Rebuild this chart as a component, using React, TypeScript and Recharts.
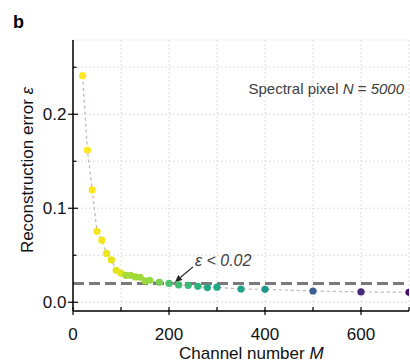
import React from 'react';
import { ComposedChart, Line, XAxis, YAxis, CartesianGrid, ReferenceLine } from 'recharts';

const channels = [20, 30, 40, 50, 60, 70, 80, 90, 100, 110, 120, 130, 140, 150, 160, 180, 200, 220, 240, 260, 280, 300, 350, 400, 500, 600, 700];
const errors = [0.241, 0.162, 0.1195, 0.0755, 0.066, 0.052, 0.045, 0.034, 0.031, 0.0287, 0.0287, 0.027, 0.0266, 0.0227, 0.0234, 0.0213, 0.020, 0.0184, 0.018, 0.017, 0.0156, 0.016, 0.014, 0.0138, 0.012, 0.011, 0.0106];
const pointColors = ['#fde725', '#fde725', '#f8e621', '#f1e51d', '#f1e51d', '#ece51b', '#e5e419', '#e2e418', '#dde318', '#a5db36', '#a5db36', '#a0da39', '#a0da39', '#9bd93c', '#95d840', '#7ad151', '#4ac16d', '#40bd72', '#3bbb75', '#2eb37c', '#22a884', '#22a884', '#20a386', '#1f968b', '#3b5f8f', '#482878', '#46106a'];
const xTicks = [0, 100, 200, 300, 400, 500, 600, 700];
const yTicks = [0, 0.05, 0.1, 0.15, 0.2, 0.25];
const threshold = 0.02;
const arrowTail = { x: 250, y: 0.0376 };
const arrowHead = { x: 212.5, y: 0.0216 };

const data = channels.map((m, i) => ({ m, e: errors[i], color: pointColors[i] }));

const FONT = "Arial, 'Liberation Sans', sans-serif";

const XTick = (props: any) => {
  const { x, y, payload } = props;
  const v = payload.value;
  const major = v % 200 === 0;
  return (
    <g>
      <line x1={x} x2={x} y1={y - 4} y2={major ? y + 4 : y} stroke="#000" strokeWidth={1.2} />
      {major && v < 700 && (
        <text x={x} y={y + 29} textAnchor="middle" fontSize={17} fontFamily={FONT} fill="#111">
          {v}
        </text>
      )}
    </g>
  );
};

const YTick = (props: any) => {
  const { x, y, payload } = props;
  const v = payload.value;
  const major = Math.round(v * 20) % 2 === 0;
  return (
    <g>
      <line x1={major ? x - 5 : x} x2={x + (major ? 5 : 3.5)} y1={y} y2={y} stroke="#000" strokeWidth={1.2} />
      {major && (
        <text x={x - 6.5} y={y + 6} textAnchor="end" fontSize={17} fontFamily={FONT} fill="#111">
          {v.toFixed(1)}
        </text>
      )}
    </g>
  );
};

const Dot = (props: any) => {
  const { cx, cy, payload, index } = props;
  return <circle key={`d${index}`} cx={cx} cy={cy} r={3.6} fill={payload.color} stroke="none" />;
};

const Arrow = (props: any) => {
  const { x1, y1, x2, y2 } = props;
  const dx = x2 - x1;
  const dy = y2 - y1;
  const len = Math.sqrt(dx * dx + dy * dy) || 1;
  const ux = dx / len;
  const uy = dy / len;
  const hl = 7;
  const hw = 3.2;
  const bx = x2 - ux * hl;
  const by = y2 - uy * hl;
  const p1 = `${x2},${y2}`;
  const p2 = `${bx - uy * hw},${by + ux * hw}`;
  const p3 = `${bx + uy * hw},${by - ux * hw}`;
  return (
    <g>
      <line x1={x1} y1={y1} x2={bx} y2={by} stroke="#222" strokeWidth={1.2} />
      <polygon points={`${p1} ${p2} ${p3}`} fill="#222" />
      <text x={x1 + 2} y={y1 - 1} fontSize={16} fontStyle="italic" fontFamily={FONT} fill="#404040">
        ε &lt; 0.02
      </text>
    </g>
  );
};

export default function App() {
  return (
    <div style={{ position: 'absolute', left: 0, top: 0, width: 410, height: 363, background: '#fff', overflow: 'hidden' }}>
      <ComposedChart width={410} height={363} data={data} margin={{ top: 40, right: 1, bottom: 0, left: 0 }}>
        <CartesianGrid stroke="#d6d6d6" strokeDasharray="2 2" strokeWidth={0.8} />
        <XAxis
          dataKey="m"
          type="number"
          domain={[0, 700]}
          ticks={xTicks}
          interval={0}
          height={52}
          tickSize={0}
          tickMargin={0}
          tickLine={false}
          axisLine={{ stroke: '#000', strokeWidth: 1.5 }}
          tick={(p: any) => <XTick {...p} />}
          allowDataOverflow
        />
        <XAxis
          xAxisId="top"
          orientation="top"
          type="number"
          domain={[0, 700]}
          height={0}
          tick={false}
          tickLine={false}
          axisLine={{ stroke: '#000', strokeWidth: 1.5 }}
        />
        <YAxis
          type="number"
          domain={[-0.0093, 0.279]}
          ticks={yTicks}
          interval={0}
          width={73}
          tickSize={0}
          tickMargin={0}
          tickLine={false}
          axisLine={{ stroke: '#000', strokeWidth: 1.5 }}
          tick={(p: any) => <YTick {...p} />}
          allowDataOverflow
        />
        <ReferenceLine y={threshold} stroke="#7a7a7a" strokeWidth={3} strokeDasharray="11 5" />
        <ReferenceLine segment={[arrowTail, arrowHead]} shape={(p: any) => <Arrow {...p} />} ifOverflow="visible" />
        <Line
          dataKey="e"
          stroke="#c4b2b2"
          strokeWidth={1.2}
          strokeDasharray="3 3"
          dot={(p: any) => <Dot {...p} />}
          activeDot={false}
          isAnimationActive={false}
        />
      </ComposedChart>
      <svg width={410} height={363} style={{ position: 'absolute', left: 0, top: 0, pointerEvents: 'none' }}>
        <text x={13} y={28} fontSize={18} fontWeight="bold" fontFamily={FONT} fill="#000">b</text>
        <text x={404} y={94} textAnchor="end" fontSize={15} fontFamily={FONT} fill="#404040">
          Spectral pixel <tspan fontStyle="italic">N</tspan> = <tspan fontStyle="italic">5000</tspan>
        </text>
        <text x={179} y={359} fontSize={17} fontFamily={FONT} fill="#111">
          Channel number <tspan fontStyle="italic">M</tspan>
        </text>
        <text transform="translate(33,170) rotate(-90)" textAnchor="middle" fontSize={17} fontFamily={FONT} fill="#111">
          Reconstruction error <tspan fontStyle="italic">ε</tspan>
        </text>
      </svg>
    </div>
  );
}
